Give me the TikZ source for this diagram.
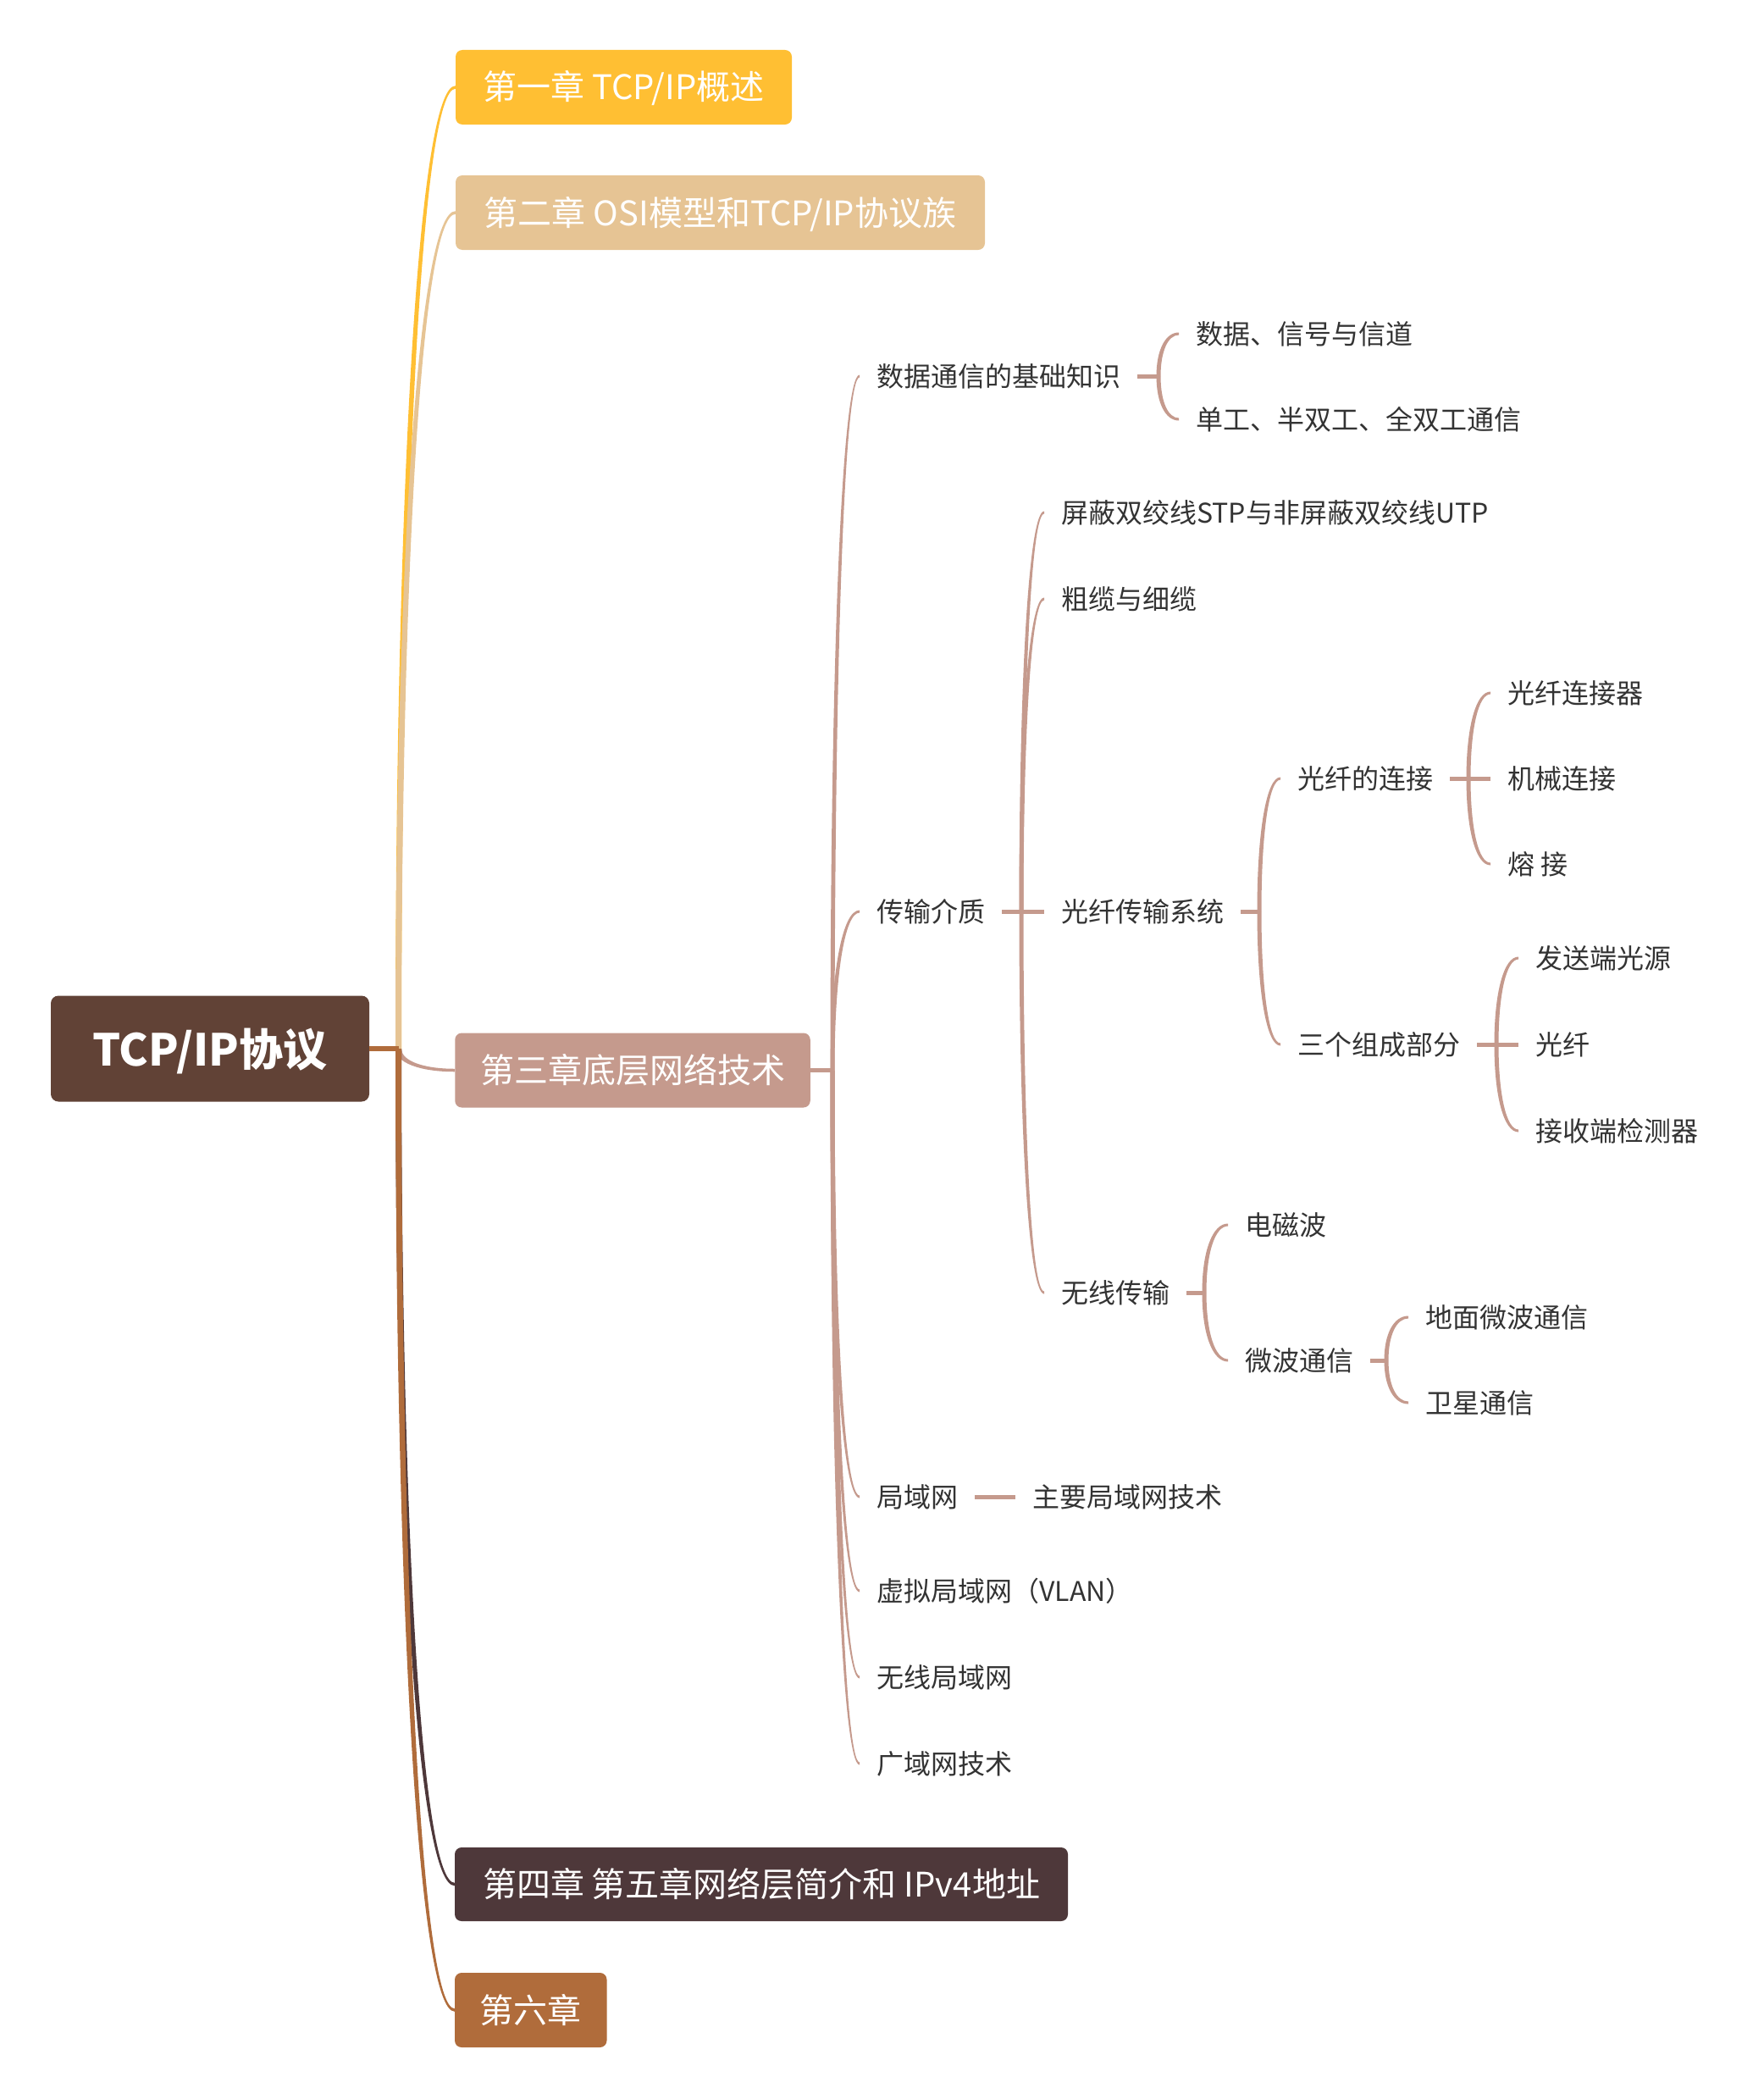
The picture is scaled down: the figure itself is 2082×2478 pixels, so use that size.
\documentclass[tikz,border=0pt]{standalone}
\usepackage{fontspec}
\setmainfont{Noto Sans CJK SC}
\usetikzlibrary{calc}
\definecolor{cRoot}{HTML}{614236}
\definecolor{cA}{HTML}{FFBF33}
\definecolor{cB}{HTML}{E6C494}
\definecolor{cC}{HTML}{C59A8D}
\definecolor{cD}{HTML}{4E383A}
\definecolor{cE}{HTML}{B06C3B}
\definecolor{cText}{HTML}{333333}
% tapered curved connector: colour, from, to, start width, end width
\newcommand\tbr[5]{%
  \fill[#1] let \p1=(#2), \p2=(#3),
    \n1={ifthenelse(\y2>\y1,1,-1)},
    \n2={\y2+\n1*(#5)/2},
    \n3={\y2-\n1*(#5)/2}
  in ({\x1-(#4)/2},\y1) .. controls ({\x1-(#4)/2},{\y1+0.6*(\n2-\y1)}) and ({\x1-(#4)/2+0.4*(\x2-\x1+(#4)/2)},{\n2*1pt}) .. (\x2,{\n2*1pt})
  -- (\x2,{\n3*1pt}) .. controls ({\x1+(#4)/2+0.4*(\x2-\x1-(#4)/2)},{\n3*1pt}) and ({\x1+(#4)/2},{\y1+0.6*(\n3-\y1)}) .. ({\x1+(#4)/2},\y1) -- cycle;}
\begin{document}
\begin{tikzpicture}[x=1pt,y=-1pt,
  chap/.style={rounded corners=8pt, text=white, minimum height=88pt, inner sep=0pt,
    font=\fontsize{40}{48}\selectfont, text height=35pt, text depth=5pt},
  rootbox/.style={rounded corners=9pt, fill=cRoot, text=white, inner sep=0pt,
    minimum width=376pt, minimum height=125pt,
    font=\fontsize{52}{60}\selectfont\bfseries, text height=46pt, text depth=6pt},
  sub/.style={anchor=west, inner xsep=20pt, inner ysep=0pt, text=cText,
    font=\fontsize{32}{38}\selectfont, text height=28pt, text depth=4pt},
  stub/.style={line width=5pt},
]
\useasboundingbox (0,0) rectangle (2082,2478);

% root and chapters
\node[rootbox] (root) at (248,1238) {TCP/IP协议};
\node[chap, fill=cA, minimum width=397pt] (c1) at (736.5,103) {第一章 TCP/IP概述};
\node[chap, fill=cB, minimum width=625pt] (c2) at (850.5,251) {第二章 OSI模型和TCP/IP协议族};
\node[chap, fill=cC, minimum width=419.5pt] (c3) at (747,1263.5) {第三章底层网络技术};
\node[chap, fill=cD, minimum width=724pt, minimum height=87pt] (c4) at (899,2224.5) {第四章 第五章网络层简介和 IPv4地址};
\node[chap, fill=cE, minimum width=179.5pt] (c6) at (626.75,2373) {第六章};

% subtopics
\node[sub] (d1) at (1015,444) {数据通信的基础知识};
\node[sub] (d2) at (1015,1076) {传输介质};
\node[sub] (d3) at (1015,1767) {局域网};
\node[sub] (d4) at (1015,1878) {虚拟局域网（VLAN）};
\node[sub] (d5) at (1015,1980) {无线局域网};
\node[sub] (d6) at (1015,2082) {广域网技术};
\node[sub] (e1) at (1392,394) {数据、信号与信道};
\node[sub] (e2) at (1392,495) {单工、半双工、全双工通信};
\node[sub] (f1) at (1233,605) {屏蔽双绞线STP与非屏蔽双绞线UTP};
\node[sub] (f2) at (1233,707) {粗缆与细缆};
\node[sub] (f3) at (1233,1076) {光纤传输系统};
\node[sub] (f4) at (1233,1526) {无线传输};
\node[sub] (g1) at (1512,919) {光纤的连接};
\node[sub] (g2) at (1512,1233) {三个组成部分};
\node[sub] (h1) at (1760,818) {光纤连接器};
\node[sub] (h2) at (1760,919) {机械连接};
\node[sub] (h3) at (1760,1020) {熔 接};
\node[sub] (i1) at (1793,1131) {发送端光源};
\node[sub] (i2) at (1793,1233) {光纤};
\node[sub] (i3) at (1793,1335) {接收端检测器};
\node[sub] (k1) at (1450,1446) {电磁波};
\node[sub] (k2) at (1450,1606) {微波通信};
\node[sub] (l1) at (1663,1555) {地面微波通信};
\node[sub] (l2) at (1663,1656) {卫星通信};
\node[sub] (m1) at (1199,1767) {主要局域网技术};

% junctions
\coordinate (j0) at (470.5,1238);
\coordinate (jc3) at (983,1263.5);
\coordinate (jd1) at (1368,444);
\coordinate (jd2) at (1206,1076);
\coordinate (jf3) at (1487,1076);
\coordinate (jf4) at (1422,1526);
\coordinate (jg1) at (1734,919);
\coordinate (jg2) at (1767,1233);
\coordinate (jk2) at (1637,1606);

% main branches
\tbr{cA}{j0}{c1.west}{7}{3.5}
\tbr{cB}{j0}{c2.west}{7}{3.5}
\tbr{cC}{j0}{c3.west}{7}{3.5}
\tbr{cD}{j0}{c4.west}{7}{3.5}
\tbr{cE}{j0}{c6.west}{7}{3.5}
\draw[cE, line width=6pt] (root.east) -- (j0);

% chapter 3 subtree
\draw[cC, stub] (c3.east) -- (jc3);
\foreach \t in {d1,d2,d3,d4,d5,d6} {\tbr{cC}{jc3}{\t.west}{5}{3}}
\draw[cC, stub] (d1.east) -- (jd1);
\foreach \t in {e1,e2} {\tbr{cC}{jd1}{\t.west}{5}{3}}
\draw[cC, stub] (d2.east) -- (f3.west);
\foreach \t in {f1,f2,f4} {\tbr{cC}{jd2}{\t.west}{5}{3}}
\draw[cC, stub] (f3.east) -- (jf3);
\foreach \t in {g1,g2} {\tbr{cC}{jf3}{\t.west}{5}{3}}
\draw[cC, stub] (g1.east) -- (h2.west);
\foreach \t in {h1,h3} {\tbr{cC}{jg1}{\t.west}{5}{3}}
\draw[cC, stub] (g2.east) -- (i2.west);
\foreach \t in {i1,i3} {\tbr{cC}{jg2}{\t.west}{5}{3}}
\draw[cC, stub] (f4.east) -- (jf4);
\foreach \t in {k1,k2} {\tbr{cC}{jf4}{\t.west}{5}{3}}
\draw[cC, stub] (k2.east) -- (jk2);
\foreach \t in {l1,l2} {\tbr{cC}{jk2}{\t.west}{5}{3}}
\draw[cC, stub] (d3.east) -- (m1.west);
\end{tikzpicture}
\end{document}
